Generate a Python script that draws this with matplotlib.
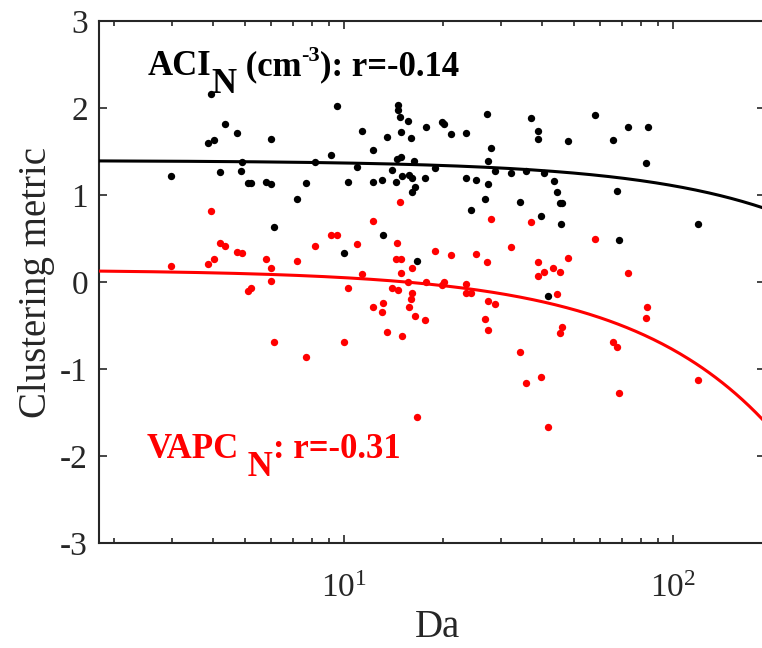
import numpy as np
import matplotlib
matplotlib.use("Agg")
import matplotlib.pyplot as plt
from matplotlib.ticker import NullFormatter, LogLocator

plt.rcParams['font.family'] = ['Liberation Serif', 'DejaVu Serif']
plt.rcParams['mathtext.fontset'] = 'custom'
plt.rcParams['mathtext.rm'] = 'Liberation Serif'
plt.rcParams['mathtext.it'] = 'Liberation Serif:italic'
plt.rcParams['mathtext.bf'] = 'Liberation Serif:bold'
plt.rcParams['axes.unicode_minus'] = False

# ---- data: ACI_N (black) ----
aci_da = [3.93, 9.51, 4.34, 4.72, 3.87, 4.02, 5.98, 9.12, 4.90, 8.19, 2.97, 4.20, 4.87,
          5.11, 5.21, 5.80, 6.02, 7.68, 10.27, 7.22, 6.12, 9.97, 14.64, 14.57, 14.75,
          15.60, 11.36, 14.95, 13.53, 15.96, 17.69, 19.89, 20.17, 21.18, 23.52, 27.11,
          36.89, 38.82, 38.74, 47.80, 12.21, 28.07, 14.85, 14.51, 16.35, 10.94, 27.36,
          18.97, 13.95, 28.87, 32.29, 35.62, 40.60, 12.29, 13.09, 14.34, 15.03, 15.78,
          16.15, 17.57, 16.38, 16.04, 23.52, 25.27, 27.36, 26.87, 24.36, 34.22, 43.35,
          44.46, 45.19, 45.83, 39.76, 45.51, 13.15, 16.70, 57.86, 72.89, 83.83, 65.62,
          83.07, 67.68, 68.63, 119.3, 41.64]
aci_val = [2.164, 2.023, 1.820, 1.713, 1.605, 1.636, 1.644, 1.460, 1.383, 1.379, 1.225,
           1.268, 1.279, 1.141, 1.145, 1.153, 1.130, 1.141, 1.156, 0.961, 0.639, 0.333,
           2.038, 1.980, 1.897, 1.857, 1.736, 1.724, 1.674, 1.655, 1.782, 1.843, 1.816,
           1.705, 1.716, 1.934, 1.892, 1.743, 1.651, 1.628, 1.517, 1.547, 1.444, 1.414,
           1.394, 1.329, 1.391, 1.310, 1.291, 1.279, 1.256, 1.279, 1.260, 1.149, 1.179,
           1.149, 1.222, 1.237, 1.199, 1.199, 1.099, 1.034, 1.199, 1.172, 1.133, 0.957,
           0.831, 0.923, 1.161, 1.038, 0.908, 0.911, 0.766, 0.670, 0.544, 0.241, 1.920,
           1.782, 1.785, 1.632, 1.371, 1.046, 0.483, 0.667, -0.154]

# ---- data: VAPC_N (red) ----
vapc_da = [3.93, 9.12, 9.51, 4.20, 4.34, 8.19, 4.72, 4.88, 5.80, 7.22, 3.87, 4.02, 2.97,
           5.98, 6.02, 5.11, 5.21, 10.27, 6.12, 9.97, 7.68, 14.75, 12.21, 28.07, 36.89,
           10.94, 14.51, 14.34, 14.88, 16.04, 18.97, 21.18, 25.27, 27.11, 32.29, 38.74,
           47.80, 38.74, 40.60, 43.20, 45.19, 11.36, 14.95, 13.95, 14.57, 15.60, 17.69,
           19.89, 20.17, 23.52, 23.52, 24.36, 16.06, 15.94, 13.15, 13.09, 12.29, 15.78,
           16.38, 17.57, 27.36, 28.87, 26.87, 27.36, 44.46, 45.83, 45.38, 13.53, 15.03,
           34.22, 35.62, 39.76, 16.70, 41.64, 57.80, 72.89, 83.60, 83.07, 65.62, 67.68,
           68.63, 119.3]
vapc_val = [0.823, 0.540, 0.544, 0.448, 0.414, 0.414, 0.352, 0.340, 0.264, 0.248, 0.210,
            0.264, 0.187, 0.164, 0.015, -0.097, -0.062, -0.069, -0.690, -0.690, -0.855,
            0.923, 0.708, 0.728, 0.690, 0.437, 0.448, 0.268, 0.268, 0.168, 0.360, 0.314,
            0.325, 0.232, 0.409, 0.230, 0.283, 0.076, 0.115, 0.168, 0.115, 0.095, 0.107,
            -0.069, -0.089, 0.007, 0.003, -0.028, 0.007, -0.020, -0.126, -0.120, -0.120,
            -0.189, -0.238, -0.341, -0.284, -0.280, -0.391, -0.437, -0.218, -0.249, -0.422,
            -0.545, -0.134, -0.510, -0.586, -0.568, -0.617, -0.798, -1.161, -1.085, -1.545,
            -1.660, 0.498, 0.110, -0.287, -0.410, -0.686, -0.740, -1.276, -1.120]

# linear fits (intercept, slope) in Da
aci_fit = (1.40, -0.0029)
vapc_fit = (0.145, -0.0092)

aci_label = "r=-0.14"
vapc_label = "r=-0.31"

xlim = (1.8, 190)
ylim = (-3, 3)
yticks = [-3, -2, -1, 0, 1, 2, 3]

fig = plt.figure(figsize=(7.62, 6.48), dpi=100)
ax = fig.add_axes([99 / 762, 0.1616, 665.7 / 762, 0.8056])
ax.set_xscale('log')
ax.set_xlim(*xlim)
ax.set_ylim(*ylim)

ax.scatter(aci_da, aci_val, s=28, color='black', linewidths=0, zorder=3)
ax.scatter(vapc_da, vapc_val, s=28, color='#ff0000', linewidths=0, zorder=3)

xx = np.geomspace(xlim[0], xlim[1], 300)
ax.plot(xx, aci_fit[0] + aci_fit[1] * xx, color='black', lw=2.2, zorder=4)
ax.plot(xx, vapc_fit[0] + vapc_fit[1] * xx, color='#ff0000', lw=2.2, zorder=4)

axcol = '#262626'
for sp in ax.spines.values():
    sp.set_color(axcol)
    sp.set_linewidth(1.5)

ax.set_yticks(yticks)
ax.yaxis.set_major_formatter(matplotlib.ticker.FuncFormatter(lambda v, p: f"{int(v)}"))
ax.xaxis.set_major_locator(LogLocator(base=10))
ax.xaxis.set_minor_locator(LogLocator(base=10, subs=np.arange(2, 10)))
ax.xaxis.set_minor_formatter(NullFormatter())
ax.tick_params(axis='both', which='major', direction='in', length=6, width=1.2,
               color=axcol, labelsize=24, top=True, right=True, labelcolor=axcol)
ax.tick_params(axis='x', which='major', pad=22)
ax.tick_params(axis='y', which='major', pad=8)
ax.tick_params(axis='x', which='minor', direction='in', length=3.5, width=1.2,
               color=axcol, top=True)

ax.set_ylabel('Clustering metric', fontsize=28, color=axcol)
ax.yaxis.set_label_coords(-0.066, 0.5)
ax.set_xlabel('Da', fontsize=28, color=axcol)
ax.xaxis.set_label_coords(0.508, -0.125)


def chain(pieces, x, y, color):
    first = ax.text(x, y, pieces[0][0], transform=ax.transAxes, fontsize=pieces[0][1],
                    weight='bold', color=color, va='baseline', ha='left')
    prev = first
    for txt, size, dy in pieces[1:]:
        t = ax.annotate(txt, xy=(1, 0), xycoords=(prev, first), xytext=(0, dy),
                        textcoords='offset points', fontsize=size, weight='bold',
                        color=color, va='bottom', ha='left')
        prev = t


chain([("ACI", 25, 0), ("N", 25, -13), (" (cm", 25, 0), ("-3", 16, 12),
       ("): " + aci_label, 25, 0)], (148 - 99) / 665.7, (543.3 - 75) / 522, 'black')
chain([("VAPC", 25, 0), (" N", 25, -13), (": " + vapc_label, 25, 0)],
      (147 - 99) / 665.7, (543.3 - 458) / 522, '#ff0000')

fig.savefig('out.png', dpi=100)
